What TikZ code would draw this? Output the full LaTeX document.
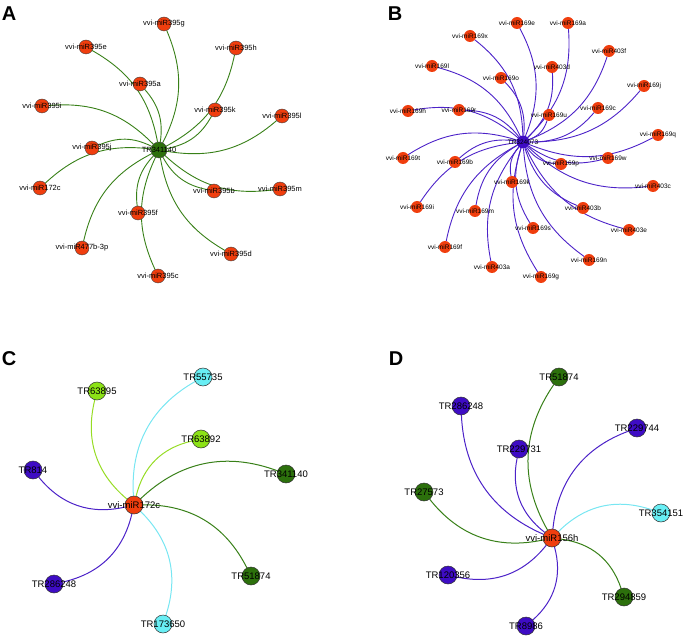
\documentclass[tikz,border=0pt]{standalone}
\usepackage{fontspec}
\setmainfont{Liberation Sans}
\usetikzlibrary{backgrounds}
\definecolor{nred}{RGB}{240,62,14}
\definecolor{ngreen}{RGB}{44,112,12}
\definecolor{npurple}{RGB}{62,12,196}
\definecolor{ncyan}{RGB}{104,238,244}
\definecolor{nlime}{RGB}{140,226,22}
\definecolor{egreen}{RGB}{56,128,24}
\definecolor{epurple}{RGB}{76,34,200}
\definecolor{ecyan}{RGB}{120,230,242}
\definecolor{elime}{RGB}{150,220,36}
\newcommand\lbl[1]{\makebox[0pt][c]{#1}}
\tikzset{
  x=1pt, y=1pt,
  base/.style={circle, inner sep=0pt, outer sep=0pt},
  anode/.style={base, fill=nred, draw=black!75, line width=0.4pt, minimum size=14pt, font=\fontsize{7.5}{8}\selectfont},
  acenter/.style={anode, fill=ngreen, minimum size=16pt},
  bnode/.style={base, fill=nred, minimum size=12pt, font=\fontsize{6.5}{7}\selectfont},
  bcenter/.style={bnode, fill=npurple, minimum size=13pt},
  cnode/.style={base, draw=black!80, line width=0.5pt, minimum size=18pt, font=\fontsize{9.5}{10}\selectfont},
  aedge/.style={egreen, line width=0.9pt},
  bedge/.style={epurple, line width=0.9pt},
  cedge/.style={line width=1pt},
  panel/.style={font=\fontsize{20}{20}\bfseries\selectfont, inner sep=0pt}
}
\begin{document}
\begin{tikzpicture}
\useasboundingbox (0,0) rectangle (685,-636);
% panel letters
\node[panel] (LA) at (9,-14) {A};
\node[panel] (LB) at (395,-14) {B};
\node[panel] (LC) at (9,-359) {C};
\node[panel] (LD) at (396,-359) {D};
% ---------- A ----------
\node[acenter] (ac) at (159,-150) {\lbl{TR341140}};
\node[anode] (a1) at (164,-24) {\lbl{vvi-miR395g}};
\node[anode] (a2) at (86,-47) {\lbl{vvi-miR395e}};
\node[anode] (a3) at (236,-48) {\lbl{vvi-miR395h}};
\node[anode] (a4) at (140,-84) {\lbl{vvi-miR395a}};
\node[anode] (a5) at (42,-106) {\lbl{vvi-miR395i}};
\node[anode] (a6) at (215,-110) {\lbl{vvi-miR395k}};
\node[anode] (a7) at (282,-116) {\lbl{vvi-miR395l}};
\node[anode] (a8) at (92,-148) {\lbl{vvi-miR395j}};
\node[anode] (a9) at (40,-188) {\lbl{vvi-miR172c}};
\node[anode] (a10) at (214,-191) {\lbl{vvi-miR395b}};
\node[anode] (a11) at (280,-189) {\lbl{vvi-miR395m}};
\node[anode] (a12) at (138,-213) {\lbl{vvi-miR395f}};
\node[anode] (a13) at (82,-248) {\lbl{vvi-miR477b-3p}};
\node[anode] (a14) at (231,-254) {\lbl{vvi-miR395d}};
\node[anode] (a15) at (158,-276) {\lbl{vvi-miR395c}};
% ---------- B ----------
\node[bcenter] (bc) at (523,-142) {\lbl{TR324073}};
\node[bnode] (b1) at (517,-23) {\lbl{vvi-miR169e}};
\node[bnode] (b2) at (568,-23) {\lbl{vvi-miR169a}};
\node[bnode] (b3) at (470,-36) {\lbl{vvi-miR169x}};
\node[bnode] (b4) at (609,-51) {\lbl{vvi-miR403f}};
\node[bnode] (b5) at (432,-66) {\lbl{vvi-miR169l}};
\node[bnode] (b6) at (552,-67) {\lbl{vvi-miR403d}};
\node[bnode] (b7) at (501,-78) {\lbl{vvi-miR169o}};
\node[bnode] (b8) at (644,-86) {\lbl{vvi-miR169j}};
\node[bnode] (b9) at (408,-111) {\lbl{vvi-miR169h}};
\node[bnode] (b10) at (459,-110) {\lbl{vvi-miR169r}};
\node[bnode] (b11) at (598,-108) {\lbl{vvi-miR169c}};
\node[bnode] (b12) at (549,-115) {\lbl{vvi-miR169u}};
\node[bnode] (b13) at (658,-135) {\lbl{vvi-miR169q}};
\node[bnode] (b14) at (403,-158) {\lbl{vvi-miR169t}};
\node[bnode] (b15) at (455,-162) {\lbl{vvi-miR169b}};
\node[bnode] (b16) at (608,-158) {\lbl{vvi-miR169w}};
\node[bnode] (b17) at (561,-164) {\lbl{vvi-miR169p}};
\node[bnode] (b18) at (653,-186) {\lbl{vvi-miR403c}};
\node[bnode] (b19) at (512,-182) {\lbl{vvi-miR169k}};
\node[bnode] (b20) at (417,-207) {\lbl{vvi-miR169i}};
\node[bnode] (b21) at (475,-211) {\lbl{vvi-miR169m}};
\node[bnode] (b22) at (583,-208) {\lbl{vvi-miR403b}};
\node[bnode] (b23) at (533,-228) {\lbl{vvi-miR169s}};
\node[bnode] (b24) at (629,-230) {\lbl{vvi-miR403e}};
\node[bnode] (b25) at (445,-247) {\lbl{vvi-miR169f}};
\node[bnode] (b26) at (589,-260) {\lbl{vvi-miR169n}};
\node[bnode] (b27) at (492,-267) {\lbl{vvi-miR403a}};
\node[bnode] (b28) at (541,-277) {\lbl{vvi-miR169g}};
% ---------- C ----------
\node[cnode, fill=nred] (cc) at (134,-505) {\lbl{vvi-miR172c}};
\node[cnode, fill=ncyan] (c1) at (203,-377) {\lbl{TR55735}};
\node[cnode, fill=nlime] (c2) at (97,-391) {\lbl{TR63895}};
\node[cnode, fill=nlime] (c3) at (201,-439) {\lbl{TR63892}};
\node[cnode, fill=npurple] (c4) at (33,-470) {\lbl{TR814}};
\node[cnode, fill=ngreen] (c5) at (286,-474) {\lbl{TR341140}};
\node[cnode, fill=npurple] (c6) at (54,-584) {\lbl{TR286248}};
\node[cnode, fill=ngreen] (c7) at (251,-576) {\lbl{TR51874}};
\node[cnode, fill=ncyan] (c8) at (163,-624) {\lbl{TR173650}};
% ---------- D ----------
\node[cnode, fill=nred] (dc) at (552,-538) {\lbl{vvi-miR156h}};
\node[cnode, fill=ngreen] (d1) at (559,-377) {\lbl{TR51874}};
\node[cnode, fill=npurple] (d2) at (461,-406) {\lbl{TR286248}};
\node[cnode, fill=npurple] (d3) at (637,-428) {\lbl{TR229744}};
\node[cnode, fill=npurple] (d4) at (519,-449) {\lbl{TR229731}};
\node[cnode, fill=ngreen] (d5) at (424,-492) {\lbl{TR27573}};
\node[cnode, fill=ncyan] (d6) at (661,-513) {\lbl{TR354151}};
\node[cnode, fill=npurple] (d7) at (448,-575) {\lbl{TR120356}};
\node[cnode, fill=ngreen] (d8) at (624,-597) {\lbl{TR294859}};
\node[cnode, fill=npurple] (d9) at (526,-626) {\lbl{TR8986}};
% ---------- edges ----------
\begin{scope}[on background layer]
\foreach \i in {1,...,15} \draw[aedge] (ac) to[bend right=25] (a\i);
\foreach \i in {1,...,28} \draw[bedge] (bc) to[bend right=25] (b\i);
\draw[cedge, ecyan] (cc) to[bend left=32] (c1);
\draw[cedge, elime] (cc) to[bend left=32] (c2);
\draw[cedge, elime] (cc) to[bend left=32] (c3);
\draw[cedge, epurple] (cc) to[bend left=32] (c4);
\draw[cedge, egreen] (cc) to[bend left=32] (c5);
\draw[cedge, epurple] (cc) to[bend left=32] (c6);
\draw[cedge, egreen] (cc) to[bend left=32] (c7);
\draw[cedge, ecyan] (cc) to[bend left=32] (c8);
\draw[cedge, egreen] (dc) to[bend left=32] (d1);
\draw[cedge, epurple] (dc) to[bend left=32] (d2);
\draw[cedge, epurple] (dc) to[bend left=32] (d3);
\draw[cedge, epurple] (dc) to[bend left=32] (d4);
\draw[cedge, egreen] (dc) to[bend left=32] (d5);
\draw[cedge, ecyan] (dc) to[bend left=32] (d6);
\draw[cedge, epurple] (dc) to[bend left=32] (d7);
\draw[cedge, egreen] (dc) to[bend left=32] (d8);
\draw[cedge, epurple] (dc) to[bend left=32] (d9);
\end{scope}
\end{tikzpicture}
\end{document}
